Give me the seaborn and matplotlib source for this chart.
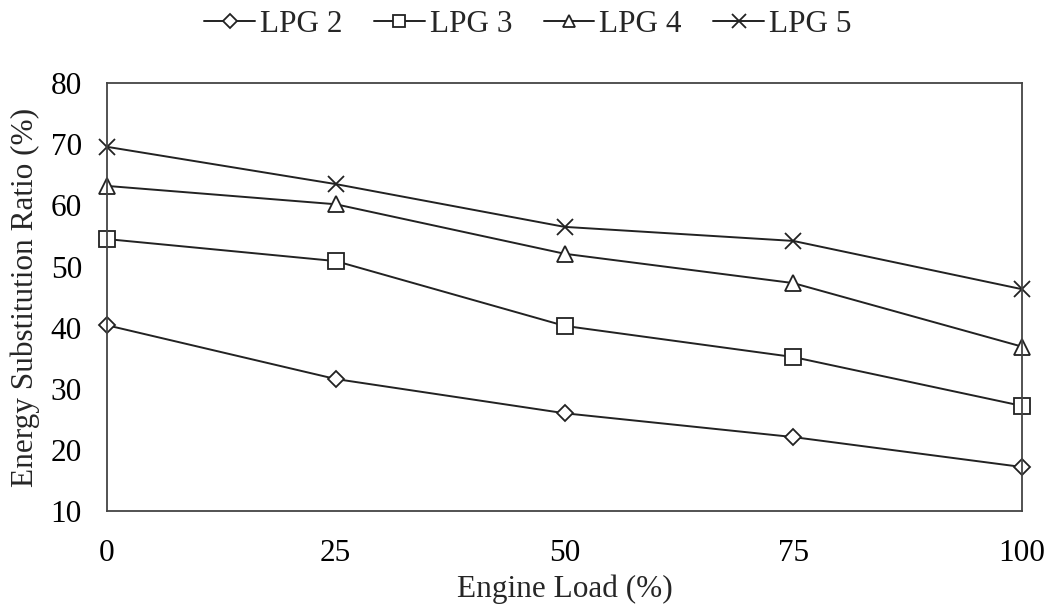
import numpy as np
import pandas as pd
import seaborn as sns
import matplotlib.pyplot as plt

# Engine load (%) and energy substitution ratio (%) per LPG case
engine_load = [0, 25, 50, 75, 100]
lpg2 = [40.4, 31.6, 26.0, 22.1, 17.2]
lpg3 = [54.5, 50.9, 40.3, 35.2, 27.2]
lpg4 = [63.2, 60.2, 52.1, 47.3, 36.9]
lpg5 = [69.6, 63.5, 56.5, 54.2, 46.3]
series_names = ["LPG 2", "LPG 3", "LPG 4", "LPG 5"]
x_ticks = [0, 25, 50, 75, 100]
y_ticks = [10, 20, 30, 40, 50, 60, 70, 80]

sns.set_style("white")
plt.rcParams['font.family'] = ['Liberation Serif', 'DejaVu Serif']

df = pd.DataFrame({
    "load": engine_load * 4,
    "value": lpg2 + lpg3 + lpg4 + lpg5,
    "series": np.repeat(series_names, len(engine_load)),
})

fig = plt.figure(figsize=(10.53, 6.15), dpi=100)
ax = fig.add_axes([0.1016, 0.1691, 0.8690, 0.6955])

markers = {"LPG 2": "D", "LPG 3": "s", "LPG 4": "^", "LPG 5": "x"}
sizes = {"LPG 2": 8.5, "LPG 3": 11, "LPG 4": 11, "LPG 5": 12}
for name in series_names:
    sub = df[df["series"] == name]
    sns.lineplot(data=sub, x="load", y="value", ax=ax, color="#222222", linewidth=1.4,
                 marker=markers[name], markersize=sizes[name], markerfacecolor="white",
                 markeredgecolor="#222222", markeredgewidth=1.3, label=name, clip_on=False)

fs = 22.5
ax.set_xlim(0, 100)
ax.set_ylim(10, 80)
ax.set_xticks(x_ticks)
ax.set_yticks(y_ticks)
ax.tick_params(axis="y", labelsize=fs, length=0, pad=18, colors="black")
ax.tick_params(axis="x", labelsize=fs, length=0, pad=20, colors="black")
ax.set_xlabel("Engine Load (%)", fontsize=fs, labelpad=5)
ax.set_ylabel("Energy Substitution Ratio (%)", fontsize=fs, labelpad=8)
for s in ax.spines.values():
    s.set_color("#444444")
    s.set_linewidth(1.3)

leg = ax.legend(loc="lower center", bbox_to_anchor=(0.46, 1.075), ncol=4, frameon=False,
                fontsize=fs, handlelength=1.63, handletextpad=0.16, columnspacing=1.0,
                markerscale=0.8, borderaxespad=0)

fig.savefig("out.png", dpi=100)
